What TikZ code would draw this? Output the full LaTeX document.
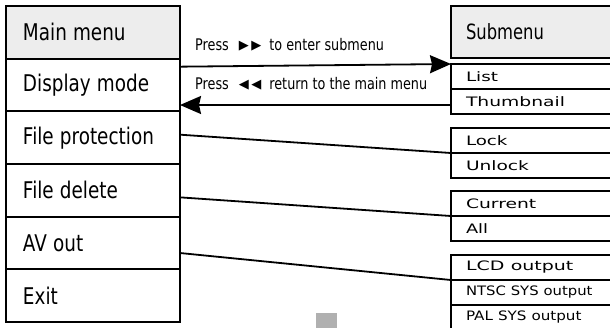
\documentclass[tikz,border=0pt]{standalone}
\usepackage{fontspec}
\setmainfont{DejaVu Sans}
\usepackage{graphicx}
\usepackage{tikz}
\usetikzlibrary{positioning}
\usetikzlibrary{arrows.meta}
\definecolor{headgray}{HTML}{EDEDED}
\definecolor{markgray}{HTML}{B0B0B0}
\newcommand{\lbl}[2]{\scalebox{#1}[1]{#2}}
\newcommand{\tri}[1]{\raisebox{1pt}{\fontsize{13}{16}\selectfont #1}}

\begin{document}
\begin{tikzpicture}[x=1pt, y=-1pt,
	menubox/.style={draw, line width=1.8pt, outer sep=0pt, minimum width=174pt, minimum height=52.67pt,
		inner xsep=17pt, text width=140pt, align=left, font=\fontsize{23}{27}\selectfont},
	subhead/.style={draw, line width=1.8pt, outer sep=0pt, fill=headgray, minimum width=174pt, minimum height=52pt,
		inner xsep=15pt, text width=144pt, align=left, font=\fontsize{21}{25}\selectfont},
	subbox/.style={draw, line width=1.8pt, outer sep=0pt, minimum width=174pt, minimum height=25pt,
		inner xsep=15pt, text width=144pt, align=left, font=\fontsize{13}{15}\selectfont},
	presslbl/.style={inner sep=0pt, font=\fontsize{16}{19}\selectfont},
	link/.style={line width=1.8pt},
	back/.style={-{Stealth[length=21pt, width=18pt, inset=2pt]}}]
	\useasboundingbox (0,0) rectangle (610,327);
	% main menu column
	\node[menubox, fill=headgray, anchor=north west] (main) at (6,6) {\lbl{.8}{Main menu}};
	\node[menubox, below=0pt of main] (disp) {\lbl{.8}{Display mode}};
	\node[menubox, below=0pt of disp] (prot) {\lbl{.8}{File protection}};
	\node[menubox, below=0pt of prot] (del) {\lbl{.8}{File delete}};
	\node[menubox, below=0pt of del] (av) {\lbl{.8}{AV out}};
	\node[menubox, below=0pt of av] (exit) {\lbl{.8}{Exit}};
	% submenu column
	\node[subhead, anchor=north west] (sub) at (451,6) {\lbl{.78}{Submenu}};
	\node[subbox, anchor=north west] (list) at (451,64) {\lbl{1.41}{List}};
	\node[subbox, below=0pt of list] (thumb) {\lbl{1.44}{Thumbnail}};
	\node[subbox, anchor=north west] (lock) at (451,128) {\lbl{1.40}{Lock}};
	\node[subbox, below=0pt of lock] (unlock) {\lbl{1.43}{Unlock}};
	\node[subbox, anchor=north west] (cur) at (451,191) {\lbl{1.44}{Current}};
	\node[subbox, below=0pt of cur] (all) {\lbl{1.37}{All}};
	\node[subbox, anchor=north west] (lcd) at (451,255) {\lbl{1.46}{LCD output}};
	\node[subbox, below=0pt of lcd] (ntsc) {\lbl{1.14}{NTSC SYS output}};
	\node[subbox, below=0pt of ntsc] (pal) {\lbl{1.165}{PAL SYS output}};
	% key labels
	\node[presslbl, anchor=base west] (fwd) at (195,50) {\lbl{.8}{Press}\hspace{10pt}\tri{▶}\hspace{2.5pt}\tri{▶}\hspace{8pt}\lbl{.8}{to enter submenu}};
	\node[presslbl, anchor=base west] (ret) at (195,89) {\lbl{.8}{Press}\hspace{10pt}\tri{◀}\hspace{2.5pt}\tri{◀}\hspace{8pt}\lbl{.8}{return to the main menu}};
	% connectors
	\coordinate (retstart) at ([yshift=-3.5pt]thumb.west);
	\draw[link, back] ([yshift=-8pt]disp.north east) -- (list.north west);
	\draw[link, back] (retstart) -- (retstart -| disp.east);
	\draw[link] ([yshift=3pt]prot.east) -- (lock.south west);
	\draw[link] ([yshift=-7pt]del.east) -- (cur.south west);
	\draw[link] ([yshift=-10pt]av.east) -- (lcd.south west);
	\fill[markgray] (316,313) rectangle (337,330);
\end{tikzpicture}
\end{document}
